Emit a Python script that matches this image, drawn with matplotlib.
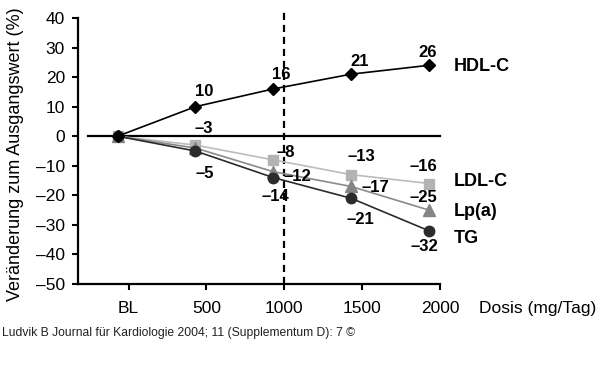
import matplotlib
matplotlib.use("Agg")
import matplotlib.pyplot as plt
import matplotlib.transforms as mtransforms

plt.rcParams['font.family'] = ['Liberation Sans', 'DejaVu Sans']

doses = [0, 500, 1000, 1500, 2000]
xtick_labels = ['BL', '500', '1000', '1500', '2000']
yticks = [40, 30, 20, 10, 0, -10, -20, -30, -40, -50]

hdl = [0, 10, 16, 21, 24]
ldl = [0, -3, -8, -13, -16]
lpa = [0, -4, -12, -17, -25]
tg = [0, -5, -14, -21, -32]

hdl_labels = [None, '10', '16', '21', '26']
ldl_labels = [None, '–3', '–8', '–13', '–16']
lpa_labels = [None, None, '–12', '–17', '–25']
tg_labels = [None, '–5', '–14', '–21', '–32']

series_names = ['HDL-C', 'LDL-C', 'Lp(a)', 'TG']

px = 0.72  # points per pixel at dpi 100

fig = plt.figure(figsize=(6.0, 3.83), dpi=100)
ax = fig.add_axes([78/600, 1-284/383, (440-78)/600, (284-18)/383])
ax.set_xlim(-325, 2000)
ax.set_ylim(-50, 40)

shift = mtransforms.ScaledTranslation(-11/100, 0, fig.dpi_scale_trans)
tr = ax.transData + shift

# zero line and dashed line
ax.plot([-260, 2000], [0, 0], color='black', lw=1.6, zorder=1, clip_on=False)
ax.plot([1000, 1000], [-50, 42], color='black', lw=1.6, ls=(0, (3.2, 2.2)), zorder=1, clip_on=False)

styles = [
    (ldl, ldl_labels, 's', '#b3b3b3', '#bcbcbc', 7,
     [(0, 0), (8, 17), (12, 7), (10, 18), (-6, 17)]),
    (lpa, lpa_labels, '^', '#858585', '#8a8a8a', 8,
     [(0, 0), (0, 0), (24, -5), (24, -1), (-6, 13)]),
    (tg, tg_labels, 'o', '#2b2b2b', '#2b2b2b', 7.5,
     [(0, 0), (9, -23), (2, -19), (9, -21), (-5, -16)]),
    (hdl, hdl_labels, 'D', '#000000', '#000000', 6,
     [(0, 0), (9, 15), (8, 14), (8, 13), (-1, 13)]),
]
for z, (vals, labs, mk, mc, lc, ms, offs) in enumerate(styles):
    ax.plot(doses, vals, color=lc, lw=1.2, marker=mk, ms=ms, mfc=mc, mec=mc,
            transform=tr, zorder=3+z, clip_on=False)
    for d, v, lab, (dx, dy) in zip(doses, vals, labs, offs):
        if lab is None:
            continue
        ax.annotate(lab, xy=(d, v), xycoords=tr, xytext=(dx*px, dy*px),
                    textcoords='offset points', ha='center', va='center',
                    fontsize=12, fontweight='bold', zorder=10)

name_vals = [hdl[-1], ldl[-1], lpa[-1], tg[-1]]
name_dy = [-1, 2, -1, -8]
for name, v, dy in zip(series_names, name_vals, name_dy):
    ax.annotate(name, xy=(doses[-1], v), xycoords=tr, xytext=(25*px, dy*px),
                textcoords='offset points', ha='left', va='center',
                fontsize=13, fontweight='bold', annotation_clip=False)

ax.set_xticks(doses)
ax.set_xticklabels(xtick_labels)
ax.set_yticks(yticks)
ax.set_yticklabels([str(t).replace('-', '–') for t in yticks])
ax.tick_params(axis='both', direction='out', length=4.3, width=1.5, labelsize=12.5, color='black')
ax.tick_params(axis='x', pad=8)
ax.tick_params(axis='y', pad=5)
for s in ['top', 'right']:
    ax.spines[s].set_visible(False)
for s in ['left', 'bottom']:
    ax.spines[s].set_linewidth(1.6)

fig.text(16/600, 1-154/383, 'Veränderung zum Ausgangswert (%)', rotation=90,
         ha='center', va='center', fontsize=13)
fig.text(479/600, 1-308/383, 'Dosis (mg/Tag)', ha='left', va='center', fontsize=12.5)
fig.text(2/600, 1-333/383, 'Ludvik B Journal für Kardiologie 2004; 11 (Supplementum D): 7 ©',
         ha='left', va='center', fontsize=8.7, color='#222222')

fig.savefig('out.png', dpi=100)
